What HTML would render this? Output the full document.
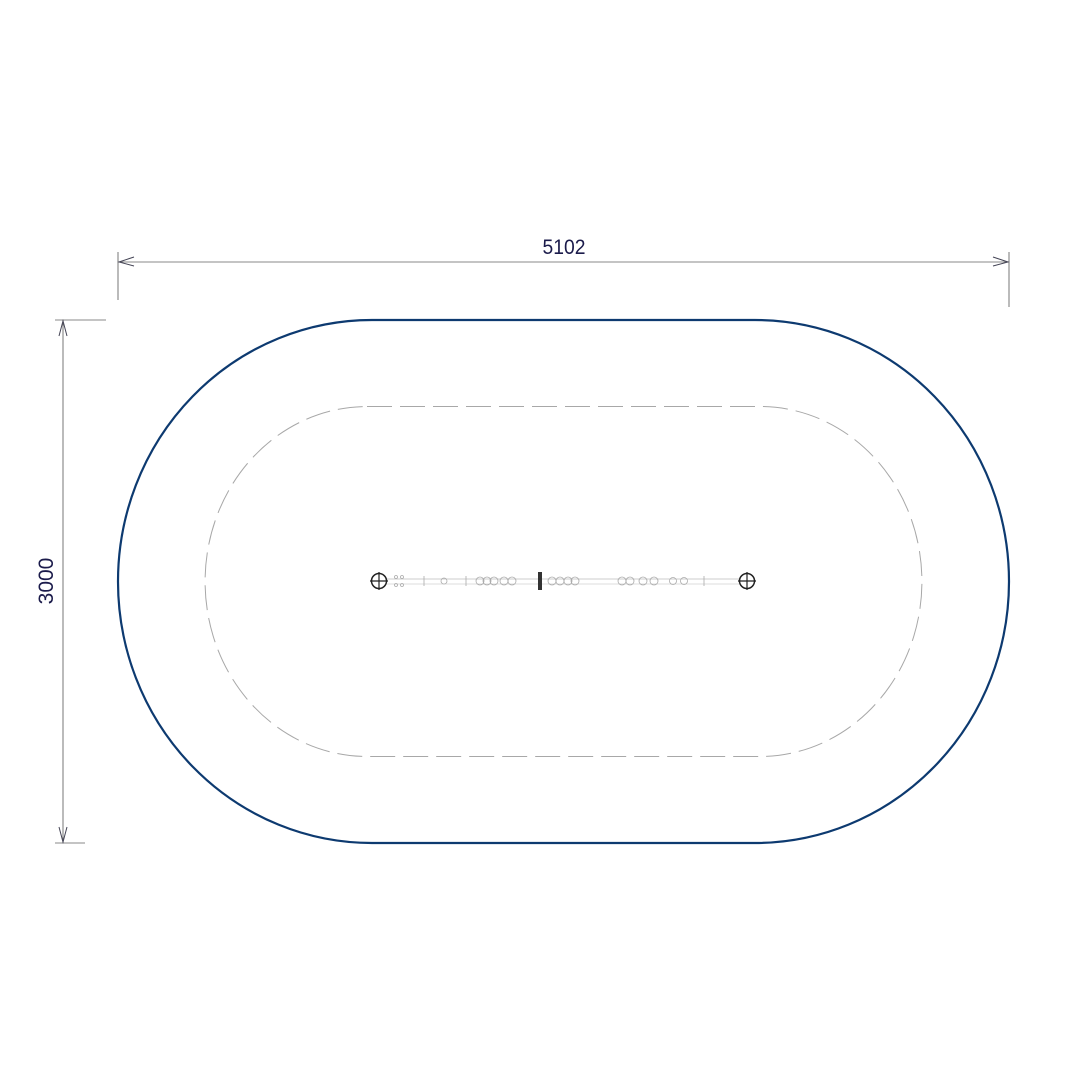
<!DOCTYPE html>
<html><head><meta charset="utf-8"><style>
html,body{margin:0;padding:0;background:#fff;}
svg{display:block;}
</style></head><body>
<svg width="1080" height="1080" viewBox="0 0 1080 1080" xmlns="http://www.w3.org/2000/svg">
<rect width="1080" height="1080" fill="#fff"/>
<path d="M372 320 L755 320 A254 261.5 0 0 1 755 843 L372 843 A254 261.5 0 0 1 372 320 Z" fill="none" stroke="#0d3a70" stroke-width="2.2"/>
<path d="M367 406.5 L760 406.5 A162 175 0 0 1 760 756.5 L367 756.5 A162 175 0 0 1 367 406.5 Z" fill="none" stroke="#a8a8a8" stroke-width="1" stroke-dasharray="25,8"/>
<line x1="118" y1="252" x2="118" y2="300" stroke="#777" stroke-width="1"/>
<line x1="1009" y1="252" x2="1009" y2="307" stroke="#777" stroke-width="1"/>
<line x1="118" y1="262" x2="1009" y2="262" stroke="#888" stroke-width="1"/>
<path d="M134 257 L119 262 L134 266" fill="none" stroke="#445" stroke-width="1"/>
<path d="M993 257 L1008 262 L993 266" fill="none" stroke="#445" stroke-width="1"/>
<text x="564" y="254" font-family="Liberation Sans, sans-serif" font-size="21" fill="#1b1b4b" text-anchor="middle" transform="scale(0.92,1) translate(49,0)">5102</text>
<line x1="55" y1="320" x2="106" y2="320" stroke="#888" stroke-width="1"/>
<line x1="55" y1="843" x2="85" y2="843" stroke="#888" stroke-width="1"/>
<line x1="63" y1="320" x2="63" y2="843" stroke="#777" stroke-width="1"/>
<path d="M59 336 L63 321 L67 336" fill="none" stroke="#445" stroke-width="1"/>
<path d="M59 827 L63 842 L67 827" fill="none" stroke="#445" stroke-width="1"/>
<text x="0" y="0" font-family="Liberation Sans, sans-serif" font-size="21" fill="#1b1b4b" text-anchor="middle" transform="translate(53,581) rotate(-90)">3000</text>
<line x1="386" y1="579" x2="740" y2="579" stroke="#ccc" stroke-width="1"/>
<line x1="386" y1="584" x2="740" y2="584" stroke="#ddd" stroke-width="1"/>
<circle cx="379" cy="581" r="7.5" fill="none" stroke="#222" stroke-width="1.5"/>
<line x1="370" y1="581" x2="388" y2="581" stroke="#222" stroke-width="1.2"/>
<line x1="379" y1="572" x2="379" y2="590" stroke="#222" stroke-width="1.2"/>
<circle cx="747" cy="581" r="7.5" fill="none" stroke="#222" stroke-width="1.5"/>
<line x1="738" y1="581" x2="756" y2="581" stroke="#222" stroke-width="1.2"/>
<line x1="747" y1="572" x2="747" y2="590" stroke="#222" stroke-width="1.2"/>
<rect x="538" y="572" width="4" height="18" fill="#333"/>
<g fill="none" stroke="#aaa" stroke-width="0.8">
<circle cx="396" cy="577" r="1.5"/><circle cx="402" cy="577" r="1.5"/>
<circle cx="396" cy="585" r="1.5"/><circle cx="402" cy="585" r="1.5"/>
<circle cx="444" cy="581" r="3"/>
<circle cx="480" cy="581" r="4"/><circle cx="487" cy="581" r="4"/><circle cx="494" cy="581" r="4"/>
<circle cx="504" cy="581" r="4"/><circle cx="512" cy="581" r="4"/>
<circle cx="552" cy="581" r="4"/><circle cx="560" cy="581" r="4"/><circle cx="568" cy="581" r="4"/><circle cx="575" cy="581" r="4"/>
<circle cx="622" cy="581" r="4"/><circle cx="630" cy="581" r="4"/>
<circle cx="643" cy="581" r="4"/><circle cx="654" cy="581" r="4"/>
<circle cx="673" cy="581" r="3.5"/><circle cx="684" cy="581" r="3.5"/>
<line x1="424" y1="576" x2="424" y2="586"/><line x1="466" y1="576" x2="466" y2="586"/>
<line x1="704" y1="576" x2="704" y2="586"/>
</g>
</svg>
</body></html>
